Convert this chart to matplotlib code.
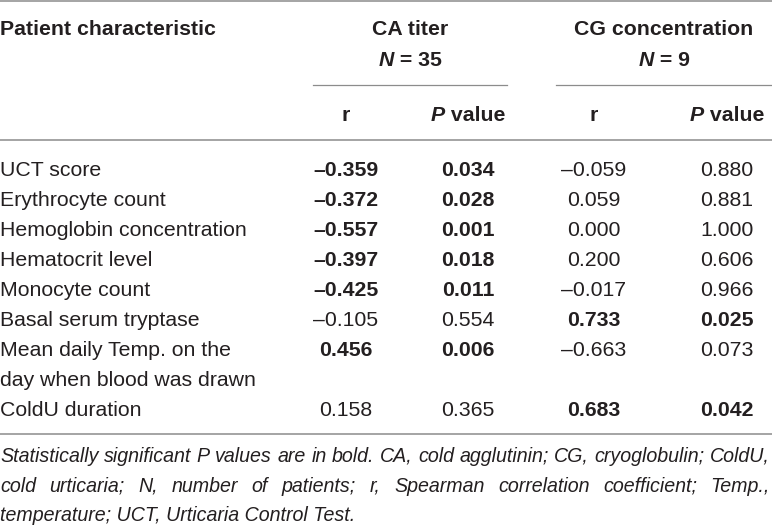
import matplotlib
matplotlib.use("Agg")
import matplotlib.pyplot as plt

# table content
characteristics = ["UCT score", "Erythrocyte count", "Hemoglobin concentration",
                   "Hematocrit level", "Monocyte count", "Basal serum tryptase",
                   "Mean daily Temp. on the\nday when blood was drawn", "ColdU duration"]
ca_r = [-0.359, -0.372, -0.557, -0.397, -0.425, -0.105, 0.456, 0.158]
ca_p = [0.034, 0.028, 0.001, 0.018, 0.011, 0.554, 0.006, 0.365]
cg_r = [-0.059, 0.059, 0.000, 0.200, -0.017, 0.733, -0.663, 0.683]
cg_p = [0.880, 0.881, 1.000, 0.606, 0.966, 0.025, 0.073, 0.042]
groups = ["CA titer", "CG concentration"]
group_n = [35, 9]
footnote = ["Statistically significant P values are in bold. CA, cold agglutinin; CG, cryoglobulin; ColdU,",
            "cold urticaria; N, number of patients; r, Spearman correlation coefficient; Temp.,",
            "temperature; UCT, Urticaria Control Test."]

W, H = 772, 525
FONT = "Liberation Sans"
TXT = "#231f20"
FS = 15.3
FS_NOTE = 14.1

fig = plt.figure(figsize=(W / 100, H / 100), dpi=100)
ax = fig.add_axes([0, 0, 1, 1])
ax.set_xlim(0, W)
ax.set_ylim(H, 0)
ax.axis("off")
renderer = fig.canvas.get_renderer()


def txt(x, y, s, ha="left", weight="normal", style="normal", size=FS):
    return ax.text(x, y, s, ha=ha, va="baseline", fontsize=size, family=FONT,
                   weight=weight, style=style, color=TXT)


def pieces(cx, y, parts):
    # parts: list of (string, style); all bold, centred as one run on cx
    objs = [txt(0, y, s, weight="bold", style=st) for s, st in parts]
    widths = [o.get_window_extent(renderer).width for o in objs]
    x = cx - sum(widths) / 2
    for o, w in zip(objs, widths):
        o.set_x(x)
        x += w


def fmt(v):
    return f"{v:.3f}".replace("-", "\u2013")


# rules
rule = dict(color="#8c8c8c", lw=1.1, solid_capstyle="butt")
ax.plot([0, W], [1, 1], **rule)
ax.plot([0, W], [140, 140], **rule)
ax.plot([0, W], [434, 434], **rule)
ax.plot([313, 507], [85, 85], color="#8c8c8c", lw=0.9)
ax.plot([556, W], [85, 85], color="#8c8c8c", lw=0.9)

# header
txt(0, 35, "Patient characteristic", weight="bold")
group_x = [410, 664]
col_x = [346, 468, 594, 727]
for gx, g, n in zip(group_x, groups, group_n):
    txt(gx, 35, g, ha="center", weight="bold")
    pieces(gx, 66, [("N", "italic"), (f" = {n}", "normal")])
for i, cx in enumerate(col_x):
    if i % 2 == 0:
        txt(cx, 121, "r", ha="center", weight="bold")
    else:
        pieces(cx, 121, [("P", "italic"), (" value", "normal")])

# body rows
base = [176, 206, 236, 266, 296, 326, 356, 416]
for i, name in enumerate(characteristics):
    y = base[i]
    for k, line in enumerate(name.split("\n")):
        txt(0, y + 30 * k, line)
    ca_b = "bold" if ca_p[i] < 0.05 else "normal"
    cg_b = "bold" if cg_p[i] < 0.05 else "normal"
    txt(col_x[0], y, fmt(ca_r[i]), ha="center", weight=ca_b)
    txt(col_x[1], y, fmt(ca_p[i]), ha="center", weight=ca_b)
    txt(col_x[2], y, fmt(cg_r[i]), ha="center", weight=cg_b)
    txt(col_x[3], y, fmt(cg_p[i]), ha="center", weight=cg_b)

# footnote, justified except the last line
note_base = [462, 492, 521]
for j, line in enumerate(footnote):
    y = note_base[j]
    if j == len(footnote) - 1:
        txt(0, y, line, style="italic", size=FS_NOTE)
        continue
    words = line.split(" ")
    objs = [txt(0, y, w, style="italic", size=FS_NOTE) for w in words]
    widths = [o.get_window_extent(renderer).width for o in objs]
    gap = (770 - sum(widths)) / (len(words) - 1)
    x = 0
    for o, w in zip(objs, widths):
        o.set_x(x)
        x += w + gap

fig.savefig("out.png", dpi=100)
